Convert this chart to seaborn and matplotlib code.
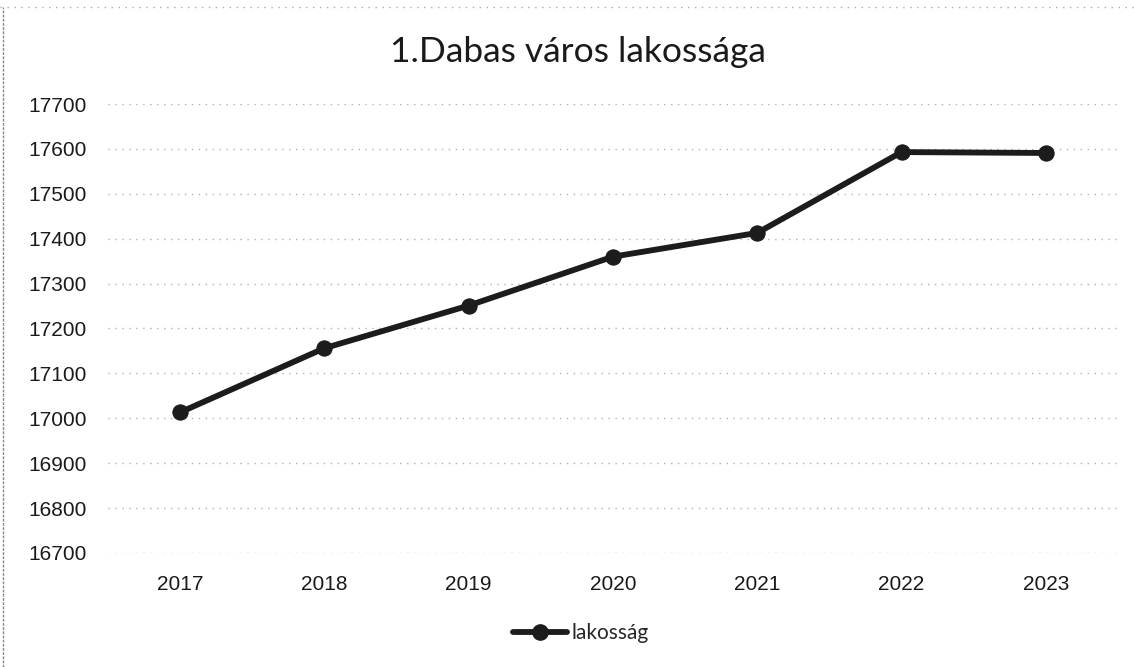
import pandas as pd
import matplotlib.pyplot as plt
import seaborn as sns
from matplotlib.lines import Line2D

# adatok
years = ['2017', '2018', '2019', '2020', '2021', '2022', '2023']
population = [17013, 17156, 17251, 17360, 17413, 17593, 17591]
y_ticks = [16700, 16800, 16900, 17000, 17100, 17200, 17300, 17400, 17500, 17600, 17700]

df = pd.DataFrame({'ev': years, 'lakosság': population})

sns.set_style("white")
plt.rcParams['font.family'] = ['Liberation Sans', 'DejaVu Sans']

fig = plt.figure(figsize=(11.34, 6.67), dpi=100)
ax = fig.add_axes([0.095, 0.171, 0.891, 0.673])

line_color = '#1c1c1c'
sns.lineplot(data=df, x='ev', y='lakosság', marker='o', color=line_color,
             linewidth=4.2, markersize=11, markeredgecolor=line_color,
             sort=False, ax=ax, label='lakosság')

ax.set_xlim(-0.5, len(years) - 0.5)
ax.set_ylim(y_ticks[0], y_ticks[-1])
ax.set_yticks(y_ticks)
ax.set_yticklabels([str(t) for t in y_ticks])
ax.grid(axis='y', color='#b0b0b0', linestyle=(0, (1, 4)), linewidth=1.0)
ax.grid(axis='x', visible=False)
ax.set_axisbelow(True)
for s in ax.spines.values():
    s.set_visible(False)
ax.tick_params(axis='both', length=0, labelsize=15, colors='#1a1a1a')
ax.tick_params(axis='x', pad=16)
ax.tick_params(axis='y', pad=15)
ax.set_xlabel('')
ax.set_ylabel('')

ax.get_legend().remove()
handle = Line2D([], [], color=line_color, linewidth=4.2, marker='o', markersize=11)
fig.legend([handle], ['lakosság'], loc='center', bbox_to_anchor=(0.512, 0.051),
           frameon=False, handlelength=2.6, handletextpad=0.2,
           prop={'family': 'Lato', 'size': 15})

fig.text(0.51, 0.922, '1.Dabas város lakossága', ha='center', va='center',
         fontsize=25.5, family='Lato', color='#1a1a1a')

# szkennelt lap széle
fig.add_artist(Line2D([0.003, 0.003], [0.0, 0.99], transform=fig.transFigure,
                      color='#888888', linewidth=1, linestyle=(0, (2, 1))))
fig.add_artist(Line2D([0.0, 1.0], [0.99, 0.99], transform=fig.transFigure,
                      color='#aaaaaa', linewidth=1, linestyle=(0, (1, 4))))

fig.savefig('out.png', dpi=100)
